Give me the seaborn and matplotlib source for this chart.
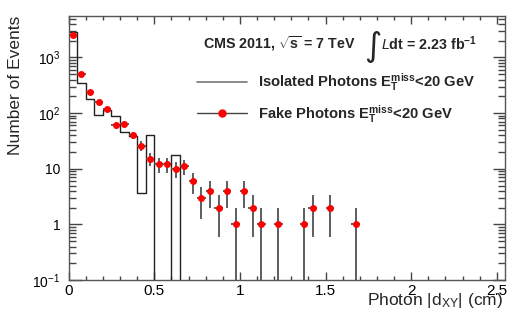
import numpy as np
import pandas as pd
import matplotlib
matplotlib.use("Agg")
import matplotlib.pyplot as plt
import seaborn as sns
from matplotlib.lines import Line2D
from matplotlib.ticker import FixedLocator, MultipleLocator, NullFormatter

# ---------------- data ----------------
bin_width = 0.05
x_range = [0.0, 2.55]
iso_centers = [0.025, 0.075, 0.125, 0.175, 0.225, 0.275, 0.325, 0.375, 0.425,
               0.475, 0.525, 0.575, 0.625]
iso_counts = [2870, 354, 180, 93, 113, 87, 46.7, 39, 3.6, 40.6, 0, 0, 17.8]

fake_centers = [0.025, 0.075, 0.125, 0.175, 0.225, 0.275, 0.325, 0.375, 0.425,
                0.475, 0.525, 0.575, 0.625, 0.675, 0.725, 0.775, 0.825, 0.875,
                0.925, 0.975, 1.025, 1.075, 1.125, 1.225, 1.375, 1.425, 1.525,
                1.675]
fake_counts = [2580, 514, 237, 159, 119, 60, 65, 40, 26, 15, 12, 12, 10, 11,
               6, 3, 4, 2, 4, 1, 4, 2, 1, 1, 1, 2, 2, 1]

y_ticks = [0.1, 1, 10, 100, 1000]
y_ticklabels = [r"$\mathregular{10^{-1}}$", "1", "10",
                r"$\mathregular{10^{2}}$", r"$\mathregular{10^{3}}$"]
x_ticks = [0, 0.5, 1, 1.5, 2, 2.5]
x_ticklabels = ["0", "0.5", "1", "1.5", "2", "2.5"]

iso_label = r"Isolated Photons $\mathbf{E_{T}^{miss}}$<20 GeV"
fake_label = r"Fake Photons $\mathbf{E_{T}^{miss}}$<20 GeV"

# ---------------- style ----------------
sns.set_theme(style="ticks")
plt.rcParams["font.family"] = ["Liberation Sans", "DejaVu Sans"]
plt.rcParams["mathtext.fontset"] = "custom"
plt.rcParams["mathtext.rm"] = "Liberation Sans"
plt.rcParams["mathtext.it"] = "Liberation Sans:italic"
plt.rcParams["mathtext.bf"] = "Liberation Sans:bold"

fig = plt.figure(figsize=(5.32, 3.23), dpi=100)
ax = fig.add_axes([0.129, 0.133, 0.821, 0.818])

n_bins = int(round((x_range[1] - x_range[0]) / bin_width))
edges = [round(x_range[0] + i * bin_width, 4) for i in range(n_bins + 1)]
iso_df = pd.DataFrame({"x": iso_centers, "w": iso_counts})
fake_df = pd.DataFrame({"x": fake_centers, "n": fake_counts})
fake_df["err"] = np.sqrt(fake_df["n"])

ax.set_yscale("log")
sns.histplot(x=iso_df["x"].to_numpy(), weights=iso_df["w"].to_numpy(), bins=edges,
             element="step", fill=False, color="#222222", linewidth=1.0, ax=ax)

ax.errorbar(fake_df["x"], fake_df["n"], yerr=fake_df["err"], xerr=bin_width / 2,
            fmt="none", ecolor="#505050", elinewidth=1.3, capsize=0, zorder=3)
sns.scatterplot(data=fake_df, x="x", y="n", color="red", edgecolor="red",
                s=25, marker="o", linewidth=0, zorder=4, ax=ax)

ax.set_xlim(*x_range)
ax.set_ylim(0.1, 5600)

# ticks
ax.xaxis.set_major_locator(FixedLocator(x_ticks))
ax.set_xticklabels(x_ticklabels)
ax.xaxis.set_minor_locator(MultipleLocator(0.1))
ax.yaxis.set_major_locator(FixedLocator(y_ticks))
ax.set_yticklabels(y_ticklabels)
minor_y = [m * 10.0 ** e for e in range(-1, 4) for m in range(2, 10)]
ax.yaxis.set_minor_locator(FixedLocator(minor_y))
ax.yaxis.set_minor_formatter(NullFormatter())
ax.tick_params(which="both", direction="in", top=True, right=True,
               colors="#444444", labelcolor="black")
ax.tick_params(axis="x", which="major", length=6, width=1, pad=2.5, labelsize=11)
ax.tick_params(axis="x", which="minor", length=3, width=1)
ax.tick_params(axis="y", which="major", length=9, width=1, pad=6, labelsize=10)
ax.tick_params(axis="y", which="minor", length=5, width=1)
for s in ax.spines.values():
    s.set_color("#555555")
    s.set_linewidth(1.0)

ax.set_xlabel(r"Photon |d$_{\mathregular{XY}}$| (cm)", fontsize=12.5, loc="right")
ax.xaxis.set_label_coords(0.995, -0.042)
ax.set_ylabel("Number of Events", fontsize=12.5, loc="top")
ax.yaxis.set_label_coords(-0.104, 1.0)

# header text
ax.text(0.307, 0.896, r"CMS 2011, $\mathbf{\sqrt{s}}$ = 7 TeV", transform=ax.transAxes,
        fontsize=10.3, fontweight="bold", va="center", ha="left")
ax.text(0.676, 0.885, "\u222B", transform=ax.transAxes, fontsize=24,
        family="DejaVu Sans", va="center", ha="left")
ax.text(0.716, 0.896, r"$\mathbf{\mathit{L}}$dt = 2.23 fb$^{\mathbf{-1}}$",
        transform=ax.transAxes, fontsize=10.3, fontweight="bold", va="center", ha="left")

handles = [Line2D([], [], color="#777777", lw=1.2),
           Line2D([], [], color="#444444", lw=1.0, marker="o", markersize=5,
                  markerfacecolor="red", markeredgecolor="red")]
leg = ax.legend(handles, [iso_label, fake_label], loc="upper left",
                bbox_to_anchor=(0.293, 0.79), frameon=False, borderpad=0,
                borderaxespad=0, handlelength=3.4, handletextpad=0.75,
                labelspacing=0.65, prop={"weight": "bold", "size": 10.6})

fig.savefig("out.png", dpi=100)
